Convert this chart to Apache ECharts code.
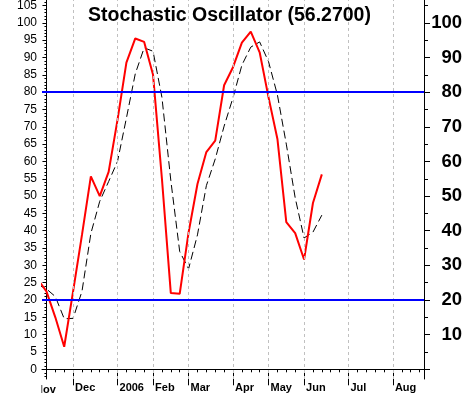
<!DOCTYPE html>
<html><head><meta charset="utf-8">
<script src="https://cdn.jsdelivr.net/npm/echarts@6/dist/echarts.min.js"></script>
<style>html,body{margin:0;padding:0;background:#fff}#c{width:465px;height:395px}</style>
</head><body><div id="c"></div>
<script>
// week index (0 = first full week shown), %K and %D values
const weeks = [-1,0,1,2,3,4,5,6,7,8,9,10,11,12,13,14,15,16,17,18,19,20,21,22,23,24,25,26,27,28,29,30,31];
const pctK = [26,22.5,15,6.5,22.5,38.8,55.7,50,57,72,88.5,95.5,94.5,85,55,22,21.8,39.5,53.5,62.7,66,82,87.2,94.3,97.5,91.5,78.5,66.5,42.5,39.3,31.7,48,56.27];
const pctD = [24.5,23.2,21,14.6,14.7,22.5,39.2,48.5,54.2,60,72.5,85.3,92.8,91.8,78.5,54.5,34,29,38.8,53,60.7,70.2,78.4,87.8,93,94.5,88.8,79.2,65,49.5,37.9,39.6,44.5];
const weekTicks = [0,1,2,3,4,5,6,7,8,9,10,11,12,13,14,15,16,17,18,19,20,21,22,23,24,25,26,27,28,29,30,31,32,33,34,35,36,37,38,39,40,41,42];
const monthWeeks = [3,8,12,16,21,25,29,34,39];
const monthNames = ['Dec','2006','Feb','Mar','Apr','May','Jun','Jul','Aug'];
const firstMonthName = 'Nov';
const leftMajor = [0,5,10,15,20,25,30,35,40,45,50,55,60,65,70,75,80,85,90,95,100,105];
const leftMinor = [-2,-1,0,1,2,3,4,5,6,7,8,9,10,11,12,13,14,15,16,17,18,19,20,21,22,23,24,25,26,27,28,29,30,31,32,33,34,35,36,37,38,39,40,41,42,43,44,45,46,47,48,49,50,51,52,53,54,55,56,57,58,59,60,61,62,63,64,65,66,67,68,69,70,71,72,73,74,75,76,77,78,79,80,81,82,83,84,85,86,87,88,89,90,91,92,93,94,95,96,97,98,99,100,101,102,103,104,105,106];
const rightMajor = [0,10,20,30,40,50,60,70,80,90,100];
const rightMinor = [5,15,25,35,45,55,65,75,85,95,105];
const rightLabels = [10,20,30,40,50,60,70,80,90,100];
const levels = [80,20];
const titleText = 'Stochastic Oscillator (56.2700)';

const yMin = -2.8, yMax = 106.6;
const black = '#000';
const chart = echarts.init(document.getElementById('c'), null, {renderer:'canvas'});
const yBase = {type:'value', min:yMin, max:yMax, splitLine:{show:false}, axisLine:{show:false}, axisLabel:{show:false}, axisTick:{show:false}};
chart.setOption({
  animation:false,
  backgroundColor:'#fff',
  grid:{left:42, right:41, top:0, bottom:16, containLabel:false, outerBoundsMode:'none'},
  xAxis:[
    {type:'value', min:-0.5, max:42.5, position:'bottom', splitLine:{show:false},
     axisLine:{show:true, lineStyle:{color:black, width:1}},
     axisTick:{show:true, customValues:weekTicks, length:3, lineStyle:{color:black}},
     axisLabel:{show:false}},
    {type:'value', min:-0.5, max:42.5, position:'bottom', splitLine:{show:false},
     axisLine:{show:false},
     axisTick:{show:true, customValues:monthWeeks, length:16, lineStyle:{color:black}},
     axisLabel:{show:true, customValues:monthWeeks, formatter:v=>monthNames[monthWeeks.indexOf(v)],
       align:'left', margin:3.5, padding:[0,0,0,2], color:black, fontFamily:'Liberation Sans', fontWeight:'bold', fontSize:11}}
  ],
  yAxis:[
    Object.assign({}, yBase, {position:'left', axisLine:{show:true, lineStyle:{color:black}},
      axisTick:{show:true, customValues:leftMajor, length:4, lineStyle:{color:black}},
      axisLabel:{show:true, customValues:leftMajor, margin:5, color:black, fontFamily:'Liberation Sans', fontSize:12}}),
    Object.assign({}, yBase, {position:'left',
      axisTick:{show:true, customValues:leftMinor, length:2, lineStyle:{color:black}}}),
    Object.assign({}, yBase, {position:'right', axisLine:{show:true, lineStyle:{color:black}},
      axisTick:{show:true, customValues:rightMajor, length:6, lineStyle:{color:black}},
      axisLabel:{show:true, customValues:rightLabels, margin:38, align:'right', color:black, fontFamily:'Liberation Sans', fontWeight:'bold', fontSize:18.5}}),
    Object.assign({}, yBase, {position:'right',
      axisTick:{show:true, customValues:rightMinor, length:4, lineStyle:{color:black}}})
  ],
  series:[
    {type:'line', data:[], xAxisIndex:0, yAxisIndex:0, z:1, silent:true,
     markLine:{silent:true, symbol:'none', label:{show:false}, animation:false,
       lineStyle:{color:'#c0c0c0', width:1, type:[3,3]},
       data:monthWeeks.map(w=>({xAxis:w}))}},
    {type:'line', data:[], xAxisIndex:0, yAxisIndex:0, z:2, silent:true,
     markLine:{silent:true, symbol:'none', label:{show:false}, animation:false,
       lineStyle:{color:'#0000ff', width:2, type:'solid'},
       data:levels.map(l=>({yAxis:l}))}},
    {type:'line', name:'%D', xAxisIndex:0, yAxisIndex:0, z:3, symbol:'none', clip:true,
     lineStyle:{color:black, width:1, type:[8,4]},
     data:weeks.map((w,i)=>[w,pctD[i]])},
    {type:'line', name:'%K', xAxisIndex:0, yAxisIndex:0, z:4, symbol:'none', clip:true,
     lineStyle:{color:'#ff0000', width:2},
     data:weeks.map((w,i)=>[w,pctK[i]])}
  ],
  graphic:[
    {type:'text', x:229.5, y:15.5, z:10, style:{text:titleText, fill:black, fontFamily:'Liberation Sans', fontWeight:'bold', fontSize:19.5, align:'center', verticalAlign:'middle'}},
    {type:'text', x:35, y:389.5, z:10, style:{text:firstMonthName, fill:black, fontFamily:'Liberation Sans', fontWeight:'bold', fontSize:11, align:'left', verticalAlign:'middle'}},
    {type:'rect', z:11, shape:{x:0, y:380, width:41.5, height:15}, style:{fill:'#fff'}}
  ]
});
</script>
</body></html>
